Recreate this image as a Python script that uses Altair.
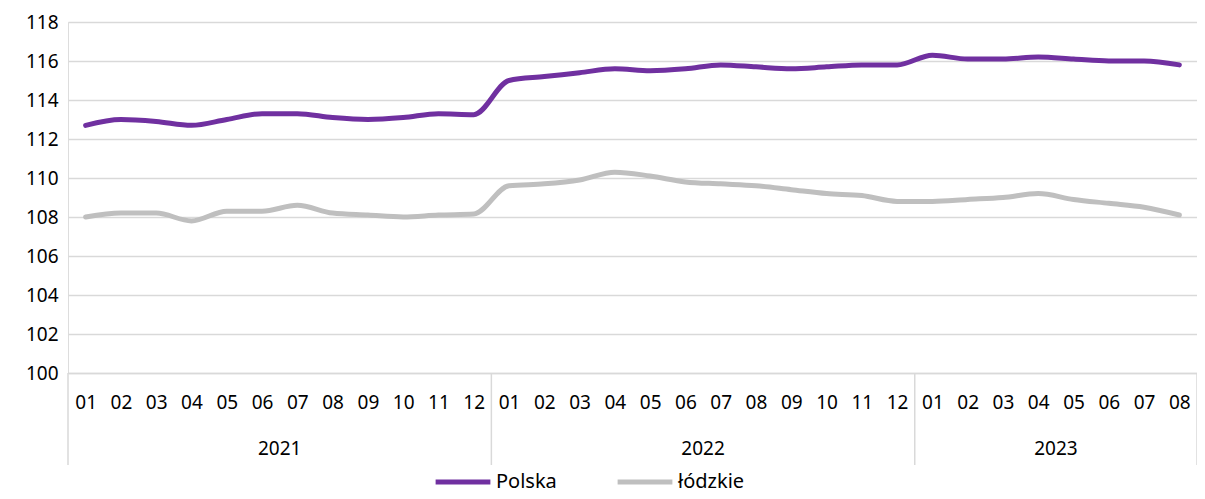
import altair as alt
import pandas as pd

months = ["01","02","03","04","05","06","07","08","09","10","11","12",
          "01","02","03","04","05","06","07","08","09","10","11","12",
          "01","02","03","04","05","06","07","08"]
years = ["2021"]*12 + ["2022"]*12 + ["2023"]*8
polska = [112.7,113.0,112.9,112.7,113.0,113.3,113.3,113.1,113.0,113.1,113.3,113.25,
          115.0,115.2,115.4,115.6,115.5,115.6,115.8,115.7,115.6,115.7,115.8,115.8,
          116.3,116.1,116.1,116.2,116.1,116.0,116.0,115.8]
lodzkie = [108.0,108.2,108.2,107.8,108.3,108.3,108.6,108.2,108.1,108.0,108.1,108.15,
           109.6,109.7,109.9,110.3,110.1,109.8,109.7,109.6,109.4,109.2,109.1,108.8,
           108.8,108.9,109.0,109.2,108.9,108.7,108.5,108.1]
series_names = ["Polska", "łódzkie"]
series_colors = ["#7030A0", "#BFBFBF"]
year_labels = ["2021", "2022", "2023"]
year_mid = [5.5, 17.5, 27.5]
separators = [-0.5, 11.5, 23.5, 31.5]

rows = []
for i in range(len(months)):
    rows.append({"idx": i, "m": months[i], "yr": years[i], "s": "Polska", "v": polska[i]})
    rows.append({"idx": i, "m": months[i], "yr": years[i], "s": "łódzkie", "v": lodzkie[i]})
df = pd.DataFrame(rows)
ydf = pd.DataFrame({"idx": year_mid, "label": year_labels})
sdf = pd.DataFrame({"idx": separators})

W, H = 1129, 351
FONT = "Noto Sans"
xscale = alt.Scale(domain=[-0.5, 31.5], nice=False, zero=False)

month_expr = "((datum.value % 12) + 1 < 10 ? '0' : '') + ((datum.value % 12) + 1)"
xaxis = alt.Axis(values=list(range(32)), labelExpr=month_expr,
                 title=None, grid=False, ticks=False, domain=True,
                 domainColor="#D9D9D9", domainWidth=1.5,
                 labelFontSize=19, labelColor="#000000", labelPadding=20,
                 labelFont=FONT, labelFlush=False, labelOverlap=False)

lines = alt.Chart(df).mark_line(interpolate="monotone", strokeWidth=5, strokeCap="round").encode(
    x=alt.X("idx:Q", scale=xscale, axis=xaxis),
    y=alt.Y("v:Q", scale=alt.Scale(domain=[100, 118], nice=False, zero=False),
            axis=alt.Axis(values=list(range(100, 119, 2)), title=None, ticks=False, domain=False,
                          gridColor="#D9D9D9", gridWidth=1.5, labelFontSize=19,
                          labelColor="#000000", labelPadding=10, labelFont=FONT)),
    color=alt.Color("s:N", scale=alt.Scale(domain=series_names, range=series_colors),
                    legend=alt.Legend(title=None, orient="none", legendX=365, legendY=430,
                                      direction="horizontal", symbolType="stroke",
                                      symbolSize=3000, symbolStrokeWidth=5,
                                      labelFontSize=20, labelFont=FONT, labelColor="#000000",
                                      columnPadding=50, labelOffset=3)),
    detail="s:N",
)

seps = alt.Chart(sdf).mark_rule(color="#D9D9D9", strokeWidth=1.5).encode(
    x=alt.X("idx:Q", scale=xscale, axis=xaxis),
    y=alt.value(H), y2=alt.value(H + 92),
)

yrs = alt.Chart(ydf).mark_text(fontSize=19, font=FONT, color="#000000").encode(
    x=alt.X("idx:Q", scale=xscale, axis=xaxis),
    y=alt.value(H + 76),
    text="label:N",
)

chart = alt.layer(lines, seps, yrs).properties(
    width=W, height=H,
    autosize=alt.AutoSizeParams(type="none"),
    padding={"left": 60, "top": 14, "right": 0, "bottom": 118},
).configure_view(stroke=None).configure(font=FONT)

chart.save("out.html", embed_options={"renderer": "svg", "actions": False})
